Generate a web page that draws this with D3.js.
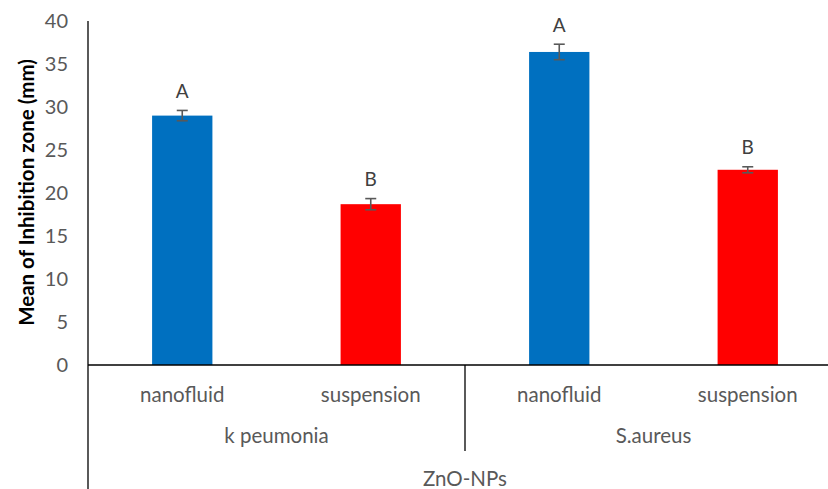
<!DOCTYPE html>
<html>
<head>
<meta charset="utf-8">
<script src="https://cdn.jsdelivr.net/npm/d3@7"></script>
<style>
  body { margin: 0; background: #fff; }
  text { font-family: Lato, "Open Sans", sans-serif; }
</style>
</head>
<body>
<div id="chart"></div>
<script>
const width = 828;
const height = 489;

// data
const bars = ['kp-nano', 'kp-susp', 'sa-nano', 'sa-susp'];
const types = ['nanofluid', 'suspension', 'nanofluid', 'suspension'];
const species = ['k peumonia', 'S.aureus'];
const group = 'ZnO-NPs';
const means = [29.0, 18.7, 36.4, 22.7];
const errors = [0.6, 0.65, 0.9, 0.35];
const letters = ['A', 'B', 'A', 'B'];
const yTicks = [0, 5, 10, 15, 20, 25, 30, 35, 40];

const blue = '#0070C0';
const red = '#FF0000';
const tickColor = '#595959';

const plotLeft = 88;
const plotRight = 842;
const zeroY = 365;
const topY = 21;

const x = d3.scaleBand()
  .domain(bars)
  .range([plotLeft, plotRight])
  .paddingInner(0.68)
  .paddingOuter(0.34);

const y = d3.scaleLinear()
  .domain([0, 40])
  .range([zeroY, topY]);

const svg = d3.select('#chart')
  .append('svg')
  .attr('width', width)
  .attr('height', height);

// y axis: labels only, no tick marks
const yAxis = d3.axisLeft(y).tickValues(yTicks).tickSize(0).tickPadding(20);
const yG = svg.append('g')
  .attr('transform', `translate(${plotLeft},0)`)
  .call(yAxis);
yG.select('.domain').remove();
yG.selectAll('text')
  .attr('fill', tickColor)
  .style('font-size', '20px');

svg.append('text')
  .attr('transform', `translate(34, ${(40 + 345) / 2}) rotate(-90)`)
  .attr('text-anchor', 'middle')
  .style('font-size', '20.5px')
  .style('font-weight', 'bold')
  .attr('fill', '#000')
  .text('Mean of Inhibition zone (mm)');

// bars
const barColor = i => types[i] === 'nanofluid' ? blue : red;
svg.selectAll('.bar')
  .data(means)
  .enter()
  .append('rect')
  .attr('class', 'bar')
  .attr('x', (d, i) => x(bars[i]))
  .attr('y', d => y(d))
  .attr('width', x.bandwidth())
  .attr('height', d => y(0) - y(d))
  .attr('fill', (d, i) => barColor(i));

// error bars
const eb = svg.selectAll('.err')
  .data(means)
  .enter()
  .append('g')
  .attr('class', 'err')
  .attr('transform', (d, i) => `translate(${x(bars[i]) + x.bandwidth() / 2},0)`)
  .attr('stroke', tickColor)
  .attr('stroke-width', 1.6);
eb.append('line')
  .attr('y1', (d, i) => y(d + errors[i]))
  .attr('y2', (d, i) => y(d - errors[i]));
eb.append('line')
  .attr('x1', -5.5).attr('x2', 5.5)
  .attr('y1', (d, i) => y(d + errors[i]))
  .attr('y2', (d, i) => y(d + errors[i]));
eb.append('line')
  .attr('x1', -5.5).attr('x2', 5.5)
  .attr('y1', (d, i) => y(d - errors[i]))
  .attr('y2', (d, i) => y(d - errors[i]));

// significance letters
svg.selectAll('.letter')
  .data(letters)
  .enter()
  .append('text')
  .attr('class', 'letter')
  .attr('x', (d, i) => x(bars[i]) + x.bandwidth() / 2)
  .attr('y', (d, i) => y(means[i] + errors[i]) - 12.5)
  .attr('text-anchor', 'middle')
  .attr('fill', '#404040')
  .style('font-size', '19px')
  .text(d => d);

// axis lines
svg.append('line')
  .attr('x1', plotLeft).attr('x2', width)
  .attr('y1', zeroY).attr('y2', zeroY)
  .attr('stroke', '#000').attr('stroke-width', 1.3);
svg.append('line')
  .attr('x1', plotLeft).attr('x2', plotLeft)
  .attr('y1', topY).attr('y2', height)
  .attr('stroke', '#000').attr('stroke-width', 1.3);

// multi-level category labels
const step = (plotRight - plotLeft) / bars.length;
svg.selectAll('.type')
  .data(types)
  .enter()
  .append('text')
  .attr('x', (d, i) => plotLeft + step * (i + 0.5))
  .attr('y', 402)
  .attr('text-anchor', 'middle')
  .attr('fill', tickColor)
  .style('font-size', '20.5px')
  .text(d => d);

svg.selectAll('.species')
  .data(species)
  .enter()
  .append('text')
  .attr('x', (d, i) => plotLeft + step * (2 * i + 1))
  .attr('y', 443)
  .attr('text-anchor', 'middle')
  .attr('fill', tickColor)
  .style('font-size', '20.5px')
  .text(d => d);

svg.append('line')
  .attr('x1', plotLeft + step * 2).attr('x2', plotLeft + step * 2)
  .attr('y1', zeroY).attr('y2', 451)
  .attr('stroke', '#000').attr('stroke-width', 1.3);

svg.append('text')
  .attr('x', (plotLeft + plotRight) / 2)
  .attr('y', 486)
  .attr('text-anchor', 'middle')
  .attr('fill', tickColor)
  .style('font-size', '20.5px')
  .text(group);
</script>
</body>
</html>
